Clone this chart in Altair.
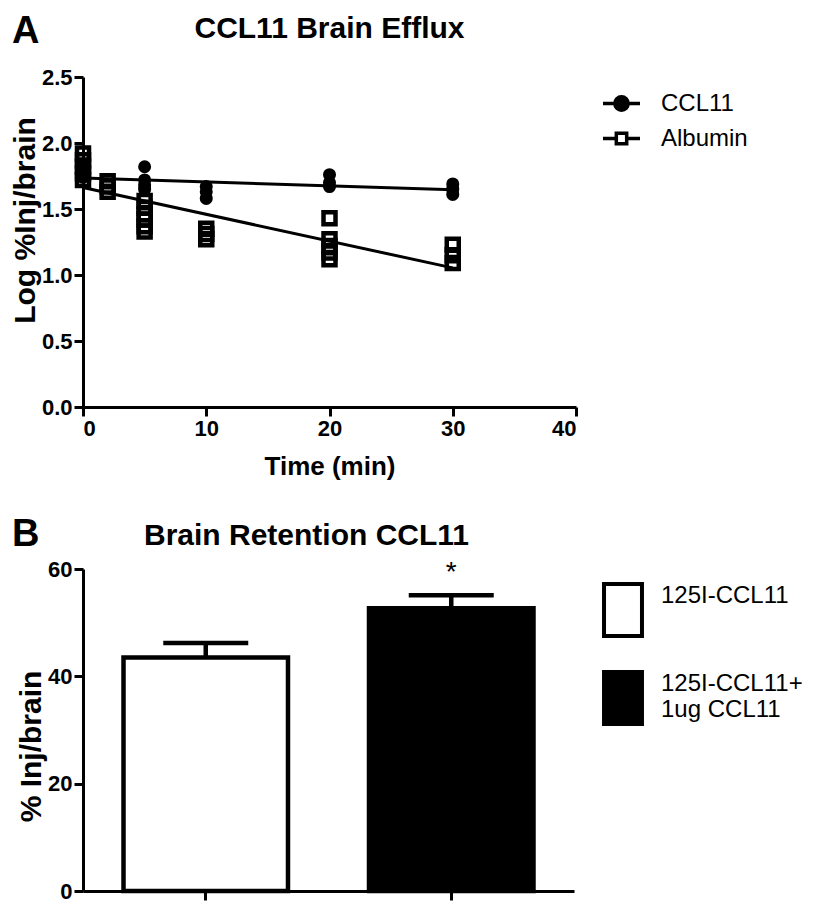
import altair as alt
import pandas as pd

FONT = "Liberation Sans"
BLACK = "#000000"
WHITE = "#ffffff"

# ---------------- data : panel A (log % Inj/brain vs time) ----------------
series_names = ["CCL11", "Albumin"]
ccl11_time = [0, 0, 0, 5, 5, 5, 5, 10, 10, 10, 20, 20, 20, 30, 30, 30]
ccl11_log = [1.82, 1.78, 1.74, 1.82, 1.72, 1.68, 1.65, 1.67, 1.63, 1.58,
             1.76, 1.70, 1.67, 1.69, 1.65, 1.61]
albumin_time = [0, 0, 0, 0, 0, 2, 2, 2, 5, 5, 5, 5, 5, 5, 10, 10, 10,
                20, 20, 20, 20, 20, 30, 30, 30]
albumin_log = [1.92, 1.87, 1.82, 1.77, 1.72, 1.71, 1.67, 1.63,
               1.56, 1.51, 1.46, 1.42, 1.37, 1.33, 1.35, 1.31, 1.27,
               1.43, 1.27, 1.22, 1.17, 1.12, 1.23, 1.15, 1.09]
time_ticks = [0, 10, 20, 30, 40]
log_ticks = [0, 0.5, 1.0, 1.5, 2.0, 2.5]

# ---------------- data : panel B (brain retention) ----------------
groups = ["125I-CCL11", "125I-CCL11+|1ug CCL11"]
retention_mean = [43.5, 52.7]
retention_sem = [2.7, 2.4]
significance = ["", "*"]
retention_ticks = [0, 20, 40, 60]

panel_letters = ["A", "B"]

# legend symbol paths (unit box -1..1)
PATH_CIRCLE_LINE = "M-1,0H1M0.36,0A0.36,0.36,0,1,1,-0.36,0A0.36,0.36,0,1,1,0.36,0Z"
PATH_SQUARE_LINE = "M-1,0H-0.28M0.28,0H1M-0.28,-0.28H0.28V0.28H-0.28Z"
PATH_RECT_LOW = "M-0.73,0H0.73V2H-0.73Z"

dfA = pd.DataFrame({
    "time": ccl11_time + albumin_time,
    "log": ccl11_log + albumin_log,
    "series": [series_names[0]] * len(ccl11_time) + [series_names[1]] * len(albumin_time),
})

xA = alt.X("time:Q", scale=alt.Scale(domain=[0, 40], nice=False, zero=False),
           axis=alt.Axis(values=time_ticks, format="d", title="Time (min)", titlePadding=14))
yA = alt.Y("log:Q", scale=alt.Scale(domain=[0, 2.5], nice=False),
           axis=alt.Axis(values=log_ticks, format=".1f", title="Log %Inj/brain",
                         titlePadding=1, titleFontSize=30, titleY=143))

fit = alt.Chart(dfA).transform_regression(
    "time", "log", groupby=["series"]
).mark_line(color=BLACK, strokeWidth=3).encode(x=xA, y=yA, detail="series:N")

squares = alt.Chart(dfA).transform_filter(alt.datum.series == "Albumin").mark_point(
    shape="square", filled=False, color=BLACK, size=144, strokeWidth=4.5, opacity=1
).encode(x=xA, y=yA)

circles = alt.Chart(dfA).transform_filter(alt.datum.series == "CCL11").mark_point(
    shape="circle", filled=True, color=BLACK, size=170, opacity=1
).encode(x=xA, y=yA)

legA = dict(title=None, orient="none", legendX=518, legendY=6, symbolSize=1369,
            symbolStrokeColor=BLACK, symbolStrokeWidth=3.5, symbolOpacity=1,
            labelFontSize=24, labelFont=FONT, labelColor=BLACK, rowPadding=0,
            labelOffset=19)
keyA = alt.Chart(pd.DataFrame({"series": series_names})).mark_point(
    clip=True, strokeWidth=3.5, opacity=1
).encode(
    x=alt.value(-400), y=alt.value(-400),
    shape=alt.Shape("series:N", sort=series_names,
                    scale=alt.Scale(domain=series_names, range=[PATH_CIRCLE_LINE, PATH_SQUARE_LINE]),
                    legend=alt.Legend(**legA)),
    fill=alt.Fill("series:N", sort=series_names,
                  scale=alt.Scale(domain=series_names, range=[BLACK, WHITE]),
                  legend=alt.Legend(**legA)),
    stroke=alt.Stroke("series:N", sort=series_names,
                      scale=alt.Scale(domain=series_names, range=[BLACK, BLACK]),
                      legend=alt.Legend(**legA)),
)

letterA = alt.Chart(pd.DataFrame({"letter": [panel_letters[0]]})).mark_text(
    font=FONT, fontSize=38, fontWeight="bold", align="left", baseline="alphabetic", color=BLACK
).encode(x=alt.value(-71), y=alt.value(-34), text="letter:N")

panelA = alt.layer(fit, squares, circles, keyA, letterA).properties(
    width=493, height=330,
    title=alt.TitleParams("CCL11 Brain Efflux", font=FONT, fontSize=30, fontWeight="bold",
                          color=BLACK, anchor="middle", offset=-31),
)

# ---------------- panel B ----------------
dfB = pd.DataFrame({"group": groups, "mean": retention_mean, "sem": retention_sem,
                    "sig": significance})

xB = alt.X("group:N", sort=groups, scale=alt.Scale(paddingInner=0.33, paddingOuter=0.165),
           axis=alt.Axis(labels=False, title=None))


def yB(field):
    return alt.Y(field, scale=alt.Scale(domain=[0, 60], nice=False),
                 axis=alt.Axis(values=retention_ticks, title="% Inj/brain", titlePadding=1,
                               titleFontSize=30, titleY=177))


legB = dict(title=None, orient="none", legendX=512, legendY=-13, symbolType=PATH_RECT_LOW,
            symbolSize=2704, symbolStrokeColor=BLACK, symbolStrokeWidth=4, symbolOpacity=1,
            labelFontSize=24, labelFont=FONT, labelColor=BLACK, rowPadding=-19,
            labelOffset=10, labelLimit=0, labelBaseline="top",
            labelExpr="split(datum.label, '|')")

bars = alt.Chart(dfB).mark_bar(stroke=BLACK, strokeWidth=4.5).encode(
    x=xB, y=yB("mean:Q"),
    fill=alt.Fill("group:N", sort=groups, scale=alt.Scale(domain=groups, range=[WHITE, BLACK]),
                  legend=alt.Legend(**legB)),
)

base_err = alt.Chart(dfB).transform_calculate(upper="datum.mean + datum.sem")
err_rule = base_err.mark_rule(color=BLACK, strokeWidth=4.5).encode(
    x=xB, y=yB("mean:Q"), y2=alt.Y2("upper:Q"))
err_cap = base_err.mark_tick(color=BLACK, thickness=4.5, size=85, opacity=1).encode(
    x=xB, y=yB("upper:Q"))
stars = base_err.mark_text(font=FONT, fontSize=28, baseline="bottom", dy=-8, color=BLACK).encode(
    x=xB, y=yB("upper:Q"), text="sig:N")

letterB = alt.Chart(pd.DataFrame({"letter": [panel_letters[1]]})).mark_text(
    font=FONT, fontSize=38, fontWeight="bold", align="left", baseline="alphabetic", color=BLACK
).encode(x=alt.value(-71), y=alt.value(-23), text="letter:N")

panelB = alt.layer(bars, err_rule, err_cap, stars, letterB).properties(
    width=491, height=322,
    title=alt.TitleParams("Brain Retention CCL11", font=FONT, fontSize=30, fontWeight="bold",
                          color=BLACK, anchor="middle", offset=-35, dx=-22),
)

chart = alt.vconcat(panelA, panelB, spacing=37).resolve_scale(
    fill="independent", shape="independent", stroke="independent"
).configure_axis(
    domainColor=BLACK, domainWidth=3, tickColor=BLACK, tickWidth=3, tickSize=9,
    labelFont=FONT, labelFontSize=22, labelFontWeight="bold", labelColor=BLACK, labelPadding=2,
    titleFont=FONT, titleFontSize=26, titleFontWeight="bold", titleColor=BLACK, grid=False,
).configure_view(stroke=None).properties(
    padding={"left": 2, "top": 5, "right": 0, "bottom": 0}
)

chart.save("out.html", embed_options={"renderer": "svg", "actions": False})
